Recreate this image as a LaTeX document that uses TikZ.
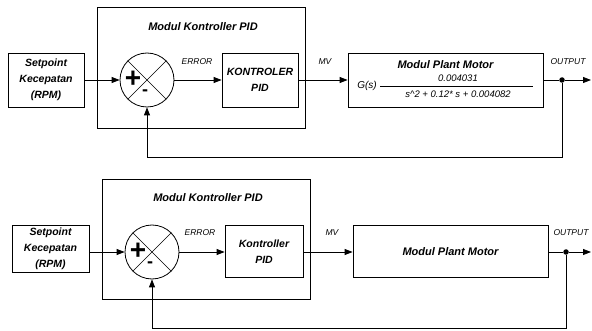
\documentclass[tikz,border=0pt]{standalone}
\usepackage{fontspec}
\setmainfont{Liberation Sans}
\usetikzlibrary{arrows.meta, positioning, calc}

\begin{document}
\begin{tikzpicture}[x=1pt, y=-1pt,
  blok/.style={draw, line width=0.8pt, align=center, inner sep=2pt, font=\fontsize{10.5}{16}\selectfont\bfseries\itshape},
  modbox/.style={draw, line width=1pt},
  sumnode/.style={draw, circle, line width=0.8pt, minimum size=54pt, inner sep=0pt},
  arr/.style={line width=0.8pt, -{Triangle[length=8pt, width=6pt]}},
  lbl/.style={font=\fontsize{8.5}{9}\selectfont\itshape},
  judul/.style={font=\fontsize{11}{12}\selectfont\bfseries\itshape},
  titik/.style={circle, fill, inner sep=0pt, minimum size=5.5pt},
  tanda/.style={font=\fontsize{28}{28}\selectfont\bfseries, inner sep=0pt}
]
  \useasboundingbox (0,0) rectangle (592,331);

  % diagram atas: dengan fungsi alih plant
  \node[modbox, minimum width=208pt, minimum height=121pt] (mod1) at (201,68.5) {};
  \node[judul] (judul1) at (203,27) {Modul Kontroller PID};
  \node[blok, minimum width=76pt, minimum height=54pt] (sp1) at (46,80) {Setpoint\\Kecepatan\\(RPM)};
  \node[sumnode] (sum1) at (147,80) {};
  \draw[line width=0.6pt] (sum1.north west) -- (sum1.south east) (sum1.north east) -- (sum1.south west);
  \node[tanda] (plus1) at (133,79) {+};
  \node[tanda, font=\fontsize{18}{18}\selectfont\bfseries] (min1) at (145,93) {-};
  \node[blok, minimum width=76pt, minimum height=54pt] (pid1) at (260,80) {KONTROLER\\PID};
  \node[blok, minimum width=195pt, minimum height=54pt] (plant1) at (445.5,80) {};
  \node[judul] (plantjudul1) at (445.5,65) {Modul Plant Motor};
  \node[font=\fontsize{10}{10}\selectfont\itshape] (gs1) at (367,86) {G(s)};
  \node[font=\fontsize{9.5}{10}\selectfont\itshape] (num1) at (458,78) {0.004031};
  \node[font=\fontsize{9.5}{10}\selectfont\itshape] (den1) at (458,94) {s\textasciicircum 2 + 0.12* s + 0.004082};
  \draw[line width=0.6pt] (gs1.east) -- (533,86);
  \node[titik] (dot1) at (562,80) {};
  \coordinate (out1) at (591,80);
  \coordinate (fb1) at (0,157);
  \node[lbl] (err1) at (197,62) {ERROR};
  \node[lbl] (mv1) at (325,62) {MV};
  \node[lbl] (outlbl1) at (568,62) {OUTPUT};

  \draw[arr] (sp1) -- (sum1);
  \draw[arr] (sum1) -- (pid1);
  \draw[arr] (pid1) -- (plant1);
  \draw[line width=0.8pt] (plant1) -- (dot1);
  \draw[arr] (dot1) -- (out1);
  \draw[arr] (dot1) -- (dot1 |- fb1) -| (sum1.south);

  % diagram bawah: blok plant saja
  \node[modbox, minimum width=208pt, minimum height=120pt] (mod2) at (206,240) {};
  \node[judul] (judul2) at (208,198) {Modul Kontroller PID};
  \node[blok, minimum width=77pt, minimum height=47pt] (sp2) at (50.5,248.5) {Setpoint\\Kecepatan\\(RPM)};
  \node[sumnode] (sum2) at (152,252) {};
  \draw[line width=0.6pt] (sum2.north west) -- (sum2.south east) (sum2.north east) -- (sum2.south west);
  \node[tanda] (plus2) at (138,251) {+};
  \node[tanda, font=\fontsize{18}{18}\selectfont\bfseries] (min2) at (150,265) {-};
  \node[blok, minimum width=78pt, minimum height=52pt] (pid2) at (264,251.5) {Kontroller\\PID};
  \node[blok, minimum width=195pt, minimum height=52pt, font=\fontsize{11}{12}\selectfont\bfseries\itshape] (plant2) at (450.5,251.5) {Modul Plant Motor};
  \node[titik] (dot2) at (566,252) {};
  \coordinate (out2) at (591,252);
  \coordinate (fb2) at (0,328);
  \node[lbl] (err2) at (200,233) {ERROR};
  \node[lbl] (mv2) at (332,233) {MV};
  \node[lbl] (outlbl2) at (571,233) {OUTPUT};

  \draw[arr] (sp2.east |- sum2) -- (sum2);
  \draw[arr] (sum2) -- (pid2.west |- sum2);
  \draw[arr] (pid2.east |- sum2) -- (plant2.west |- sum2);
  \draw[line width=0.8pt] (plant2.east |- sum2) -- (dot2);
  \draw[arr] (dot2) -- (out2);
  \draw[arr] (dot2) -- (dot2 |- fb2) -| (sum2.south);
\end{tikzpicture}
\end{document}
